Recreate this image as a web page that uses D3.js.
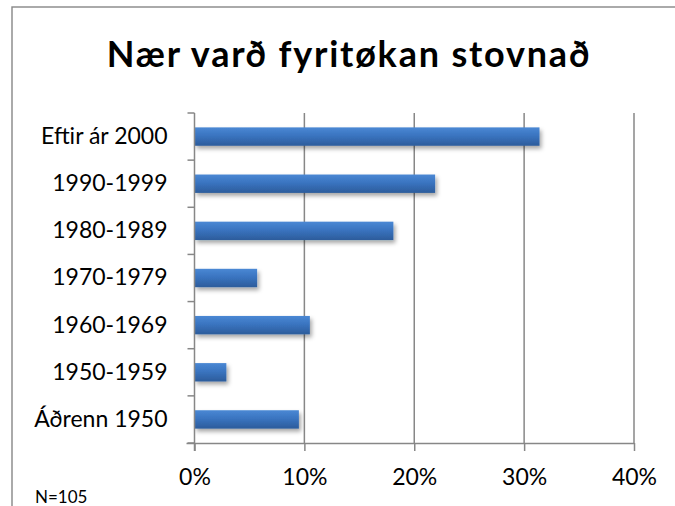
<!DOCTYPE html>
<html>
<head>
<meta charset="utf-8">
<script src="https://cdn.jsdelivr.net/npm/d3@7"></script>
<style>
  html, body { margin: 0; padding: 0; background: #fff; }
  svg { display: block; }
  text { font-family: Lato, "Open Sans", sans-serif; fill: #000; }
</style>
</head>
<body>
<svg id="chart" width="675" height="506"></svg>
<script>
const title = "Nær varð fyritøkan stovnað";
const note = "N=105";
const categories = ["Eftir ár 2000", "1990-1999", "1980-1989", "1970-1979", "1960-1969", "1950-1959", "Áðrenn 1950"];
const values = [0.314, 0.219, 0.181, 0.057, 0.105, 0.029, 0.095];
const tickValues = [0, 0.1, 0.2, 0.3, 0.4];

const svg = d3.select("#chart");
const W = 675, H = 506;
const plot = { left: 194.5, right: 634, top: 113, bottom: 443 };
const grey = "#878787";

const defs = svg.append("defs");
const grad = defs.append("linearGradient").attr("id", "barGrad")
  .attr("x1", 0).attr("y1", 0).attr("x2", 0).attr("y2", 1);
grad.append("stop").attr("offset", "0%").attr("stop-color", "#4a88d4");
grad.append("stop").attr("offset", "45%").attr("stop-color", "#3a74c0");
grad.append("stop").attr("offset", "100%").attr("stop-color", "#2c5c9b");
const f = defs.append("filter").attr("id", "shadow")
  .attr("x", "-10%").attr("y", "-30%").attr("width", "130%").attr("height", "190%");
f.append("feDropShadow").attr("dx", 2).attr("dy", 3).attr("stdDeviation", 2.2)
  .attr("flood-color", "#000").attr("flood-opacity", 0.35);

// chart area border
svg.append("rect").attr("x", 12).attr("y", 7).attr("width", W + 20).attr("height", H + 20)
  .attr("fill", "#fff").attr("stroke", grey).attr("stroke-width", 1.4);

const x = d3.scaleLinear().domain([0, 0.4]).range([plot.left, plot.right]);
const pad = 0.61;
const y = d3.scaleBand().domain(categories).range([plot.top, plot.bottom])
  .paddingInner(pad).paddingOuter(pad / 2);
const step = y.step();

// gridlines
svg.append("g").selectAll("line").data(tickValues.slice(1)).join("line")
  .attr("x1", d => x(d)).attr("x2", d => x(d))
  .attr("y1", plot.top).attr("y2", plot.bottom)
  .attr("stroke", grey).attr("stroke-width", 1.5);

// bars
svg.append("g").selectAll("rect").data(categories).join("rect")
  .attr("x", x(0))
  .attr("y", d => y(d))
  .attr("width", (d, i) => x(values[i]) - x(0))
  .attr("height", y.bandwidth())
  .attr("fill", "url(#barGrad)")
  .attr("filter", "url(#shadow)");

// x axis
const xAxis = svg.append("g").attr("transform", `translate(0,${plot.bottom})`)
  .call(d3.axisBottom(x).tickValues(tickValues).tickFormat(d3.format(".0%"))
    .tickSize(8).tickSizeOuter(0).tickPadding(17.5));
xAxis.select(".domain").attr("stroke", grey).attr("stroke-width", 1.5)
  .attr("d", `M${plot.left - 8},0.5H${plot.right}`);
xAxis.selectAll(".tick line").attr("stroke", grey).attr("stroke-width", 1.5);
xAxis.selectAll(".tick text").style("font-family", "Lato, sans-serif").style("font-size", "23px").attr("fill", "#000");

// y axis (category boundaries as ticks)
const boundaries = categories.map(c => y(c) - y.paddingInner() * step / 2);
boundaries.push(plot.bottom);
svg.append("line").attr("x1", plot.left).attr("x2", plot.left)
  .attr("y1", plot.top).attr("y2", plot.bottom + 8)
  .attr("stroke", grey).attr("stroke-width", 1.5);
svg.append("g").selectAll("line").data(boundaries).join("line")
  .attr("x1", plot.left - 7).attr("x2", plot.left)
  .attr("y1", d => d).attr("y2", d => d)
  .attr("stroke", grey).attr("stroke-width", 1.5);

const yAxis = svg.append("g").attr("transform", `translate(${plot.left},0)`)
  .call(d3.axisLeft(y).tickSize(0).tickPadding(27));
yAxis.select(".domain").remove();
yAxis.selectAll(".tick text").style("font-family", "Lato, sans-serif").style("font-size", "23px").attr("fill", "#000");

// title
svg.append("text").attr("x", 349).attr("y", 67).attr("text-anchor", "middle")
  .style("font-size", "36px").style("font-weight", "bold").style("letter-spacing", "1.8px")
  .text(title);

// note
svg.append("text").attr("x", 35).attr("y", 503).style("font-size", "17px").text(note);
</script>
</body>
</html>
